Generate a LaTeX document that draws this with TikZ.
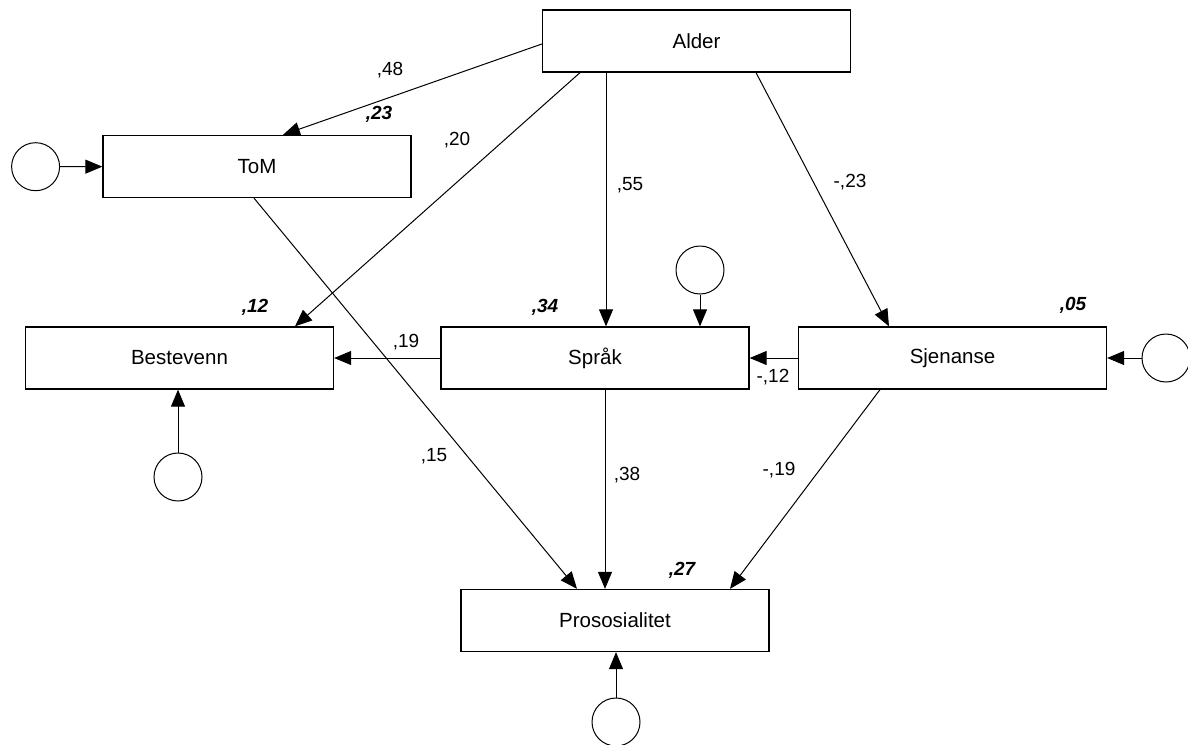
\documentclass[tikz,border=0pt]{standalone}
\usepackage{fontspec}
\setmainfont{Liberation Sans}
\usetikzlibrary{%
		arrows.meta%
	}

\begin{document}
\begin{tikzpicture}[x=1pt,y=-1pt,
			boks/.style={draw,line width=1.3pt,minimum width=308pt,minimum height=62pt,inner sep=0pt,font=\fontsize{20.5}{24}\selectfont},
			feil/.style={draw,circle,line width=1pt,minimum size=48pt,inner sep=0pt},
			pil/.style={line width=1pt,-{Triangle[length=17pt,width=14pt]}},
			koef/.style={inner sep=0pt,font=\fontsize{19}{22}\selectfont},
			rkv/.style={inner sep=0pt,font=\fontsize{19}{22}\selectfont\bfseries\itshape}]
			\useasboundingbox (0,0) rectangle (1188,744);
			
			\node[boks] (Alder) at (696.5,41) {Alder};
			\node[boks] (ToM) at (257,166.5) {ToM};
			\node[boks] (Bestevenn) at (179.5,358) {Bestevenn};
			\node[boks] (Sprak) at (595,358) {Språk};
			\node[boks] (Sjenanse) at (952.5,358) {Sjenanse};
			\node[boks] (Pros) at (615,620.5) {Prososialitet};
			
			% residualer
			\node[feil] (e1) at (35.6,166.7) {};
			\node[feil] (e2) at (178,477) {};
			\node[feil] (e3) at (700,270) {};
			\node[feil] (e4) at (1166,358) {};
			\node[feil] (e5) at (616,722) {};
			
			\draw[pil] ([yshift=-3pt]Alder.west) -- ([xshift=26pt]ToM.north);
			\draw[pil] ([xshift=-116.5pt]Alder.south) -- ([xshift=115.5pt]Bestevenn.north);
			\draw[pil] ([xshift=-90.5pt]Alder.south) -- ([xshift=11pt]Sprak.north);
			\draw[pil] ([xshift=59.5pt]Alder.south) -- ([xshift=-63.5pt]Sjenanse.north);
			\draw[pil] ([xshift=-3pt]ToM.south) -- ([xshift=-38pt]Pros.north);
			\draw[pil] (Sprak) -- (Bestevenn);
			\draw[pil] (Sjenanse) -- (Sprak);
			\draw[pil] ([xshift=10pt]Sprak.south) -- ([xshift=-10pt]Pros.north);
			\draw[pil] ([xshift=-72.5pt]Sjenanse.south) -- ([xshift=115pt]Pros.north);
			
			\draw[pil] (e1) -- (ToM);
			\draw[pil] (e2) -- (e2 |- Bestevenn.south);
			\draw[pil] (e3) -- (e3 |- Sprak.north);
			\draw[pil] (e4) -- (Sjenanse);
			\draw[pil] (e5) -- (e5 |- Pros.south);
			
			% stikoeffisienter
			\node[koef] (kAT) at (390,70) {,48};
			\node[koef] (kAB) at (457,140) {,20};
			\node[koef] (kAS) at (630,185) {,55};
			\node[koef] (kAJ) at (850,182) {-,23};
			\node[koef] (kSB) at (406,342) {,19};
			\node[koef] (kJS) at (773,377) {-,12};
			\node[koef] (kTP) at (434,456) {,15};
			\node[koef] (kSP) at (627,475) {,38};
			\node[koef] (kJP) at (779,470) {-,19};
			
			% forklart varians
			\node[rkv] (rT) at (379,114) {,23};
			\node[rkv] (rB) at (255,307) {,12};
			\node[rkv] (rS) at (545,307) {,34};
			\node[rkv] (rJ) at (1073,305) {,05};
			\node[rkv] (rP) at (682,570) {,27};
		\end{tikzpicture}
\end{document}
